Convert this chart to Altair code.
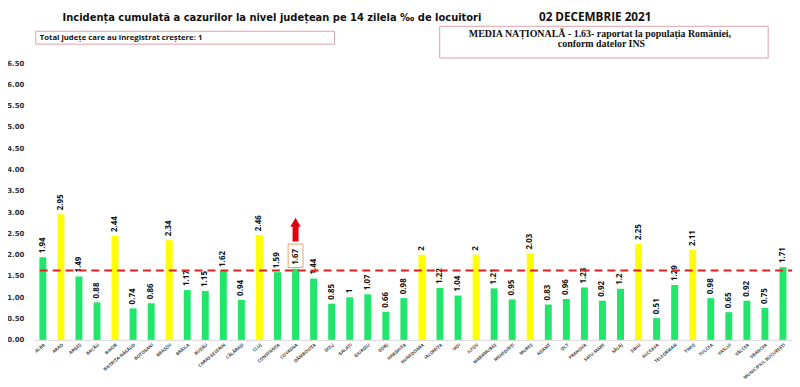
import altair as alt
import pandas as pd

counties = [
    "ALBA", "ARAD", "ARGEȘ", "BACĂU", "BIHOR", "BISTRIȚA-NĂSĂUD", "BOTOȘANI",
    "BRAȘOV", "BRĂILA", "BUZĂU", "CARAȘ-SEVERIN", "CĂLĂRAȘI", "CLUJ",
    "CONSTANȚA", "COVASNA", "DÂMBOVIȚA", "DOLJ", "GALAȚI", "GIURGIU", "GORJ",
    "HARGHITA", "HUNEDOARA", "IALOMIȚA", "IAȘI", "ILFOV", "MARAMUREȘ",
    "MEHEDINȚI", "MUREȘ", "NEAMȚ", "OLT", "PRAHOVA", "SATU MARE", "SĂLAJ",
    "SIBIU", "SUCEAVA", "TELEORMAN", "TIMIȘ", "TULCEA", "VASLUI", "VÂLCEA",
    "VRANCEA", "MUNICIPIUL BUCUREȘTI",
]
values = [
    1.94, 2.95, 1.49, 0.88, 2.44, 0.74, 0.86,
    2.34, 1.17, 1.15, 1.62, 0.94, 2.46,
    1.59, 1.67, 1.44, 0.85, 1, 1.07, 0.66,
    0.98, 2, 1.22, 1.04, 2, 1.21,
    0.95, 2.03, 0.83, 0.96, 1.23, 0.92, 1.2,
    2.25, 0.51, 1.29, 2.11, 0.98, 0.65, 0.92,
    0.75, 1.71,
]
y_ticks = [0.0, 0.5, 1.0, 1.5, 2.0, 2.5, 3.0, 3.5, 4.0, 4.5, 5.0, 5.5, 6.0, 6.5]
national_avg = 1.63
highlight_county = "COVASNA"
title_text = "Incidența cumulată a cazurilor la nivel județean pe 14 zilela ‰ de locuitori"
date_text = "02 DECEMBRIE 2021"
box1_text = "Total județe care au înregistrat creștere: 1"
box2_lines = ["MEDIA NAȚIONALĂ  - 1.63-  raportat la populația României,", "conform datelor INS"]

df = pd.DataFrame({"judet": counties, "val": values})

hv = values[counties.index(highlight_county)]
hl = pd.DataFrame({
    "judet": [highlight_county],
    "lo": [hv + 0.03], "hi": [hv + 0.58],
    "a0": [2.31], "a1": [2.68], "ah": [2.76],
})

xenc = alt.X(
    "judet:N", sort=counties,
    scale=alt.Scale(paddingInner=0, paddingOuter=0),
    axis=alt.Axis(
        title=None, labelAngle=-40, labelFontSize=4.5, labelFont="Open Sans",
        labelFontWeight="bold", labelColor="#444444", ticks=False,
        domainColor="#d9d9d9", labelPadding=2, labelOverlap=False, labelLimit=200,
    ),
)
yscale = alt.Scale(domain=[0, 6.501], nice=False)
yenc = alt.Y(
    "val:Q", scale=yscale,
    axis=alt.Axis(
        title=None, values=y_ticks, tickCount=20, format=".2f", grid=False,
        domain=False, ticks=False, labelPadding=10, labelFont="DejaVu Sans",
        labelFontSize=7, labelFontWeight="bold", labelColor="#333333",
        labelOverlap=False,
    ),
)

base = alt.Chart(df)

bars = base.mark_bar(size=7).encode(
    x=xenc, y=yenc,
    color=alt.condition("datum.val >= 2", alt.value("#FFFF00"), alt.value("#21E66B")),
)

labels = base.mark_text(
    angle=270, align="left", baseline="middle", dx=4,
    font="Open Sans", fontSize=8, fontWeight="bold", color="#111111",
).encode(x=xenc, y=alt.Y("val:Q", scale=yscale), text=alt.Text("val:Q", format="~g"))

avg_rule = alt.Chart(pd.DataFrame({"avg": [national_avg]})).mark_rule(
    color="#E02020", strokeWidth=2, strokeDash=[8, 5]
).encode(y=alt.Y("avg:Q", scale=yscale), x=alt.value(6), x2=alt.value(766))

hl_box = alt.Chart(hl).mark_bar(
    size=15, filled=False, stroke="#E8A070", strokeWidth=1
).encode(x=xenc, y=alt.Y("lo:Q", scale=yscale), y2="hi:Q")

arrow_shaft = alt.Chart(hl).mark_rule(color="#E00010", strokeWidth=6).encode(
    x=xenc, y=alt.Y("a0:Q", scale=yscale), y2="a1:Q"
)
arrow_head = alt.Chart(hl).mark_point(
    shape="triangle-up", filled=True, size=110, color="#E00010", opacity=1
).encode(x=xenc, y=alt.Y("ah:Q", scale=yscale))

box_stroke = "#E0A0A8"
box1 = alt.Chart(pd.DataFrame({"k": [1]})).mark_rect(
    fill="white", stroke=box_stroke, strokeWidth=1
).encode(x=alt.value(2), x2=alt.value(303), y=alt.value(-32), y2=alt.value(-19))
box1_t = alt.Chart(pd.DataFrame({"t": [box1_text]})).mark_text(
    align="left", baseline="middle", font="Open Sans", fontSize=7.8,
    fontWeight="bold", color="#111111",
).encode(x=alt.value(6), y=alt.value(-25.5), text="t:N")

box2 = alt.Chart(pd.DataFrame({"k": [1]})).mark_rect(
    fill="white", stroke=box_stroke, strokeWidth=1
).encode(x=alt.value(409), x2=alt.value(740), y=alt.value(-37), y2=alt.value(-5))
box2_t1 = alt.Chart(pd.DataFrame({"t": [box2_lines[0]]})).mark_text(
    align="center", baseline="middle", font="Liberation Serif", fontSize=10,
    fontWeight="bold", color="#111111",
).encode(x=alt.value(570.5), y=alt.value(-29), text="t:N")
box2_t2 = alt.Chart(pd.DataFrame({"t": [box2_lines[1]]})).mark_text(
    align="center", baseline="middle", font="Liberation Serif", fontSize=10,
    fontWeight="bold", color="#111111",
).encode(x=alt.value(572), y=alt.value(-19), text="t:N")

title_t = alt.Chart(pd.DataFrame({"t": [title_text]})).mark_text(
    align="left", baseline="alphabetic", font="DejaVu Sans", fontSize=10,
    fontWeight="bold", color="#111111",
).encode(x=alt.value(29), y=alt.value(-42), text="t:N")
date_t = alt.Chart(pd.DataFrame({"t": [date_text]})).mark_text(
    align="left", baseline="alphabetic", font="Open Sans", fontSize=11.8,
    fontWeight="bold", color="#111111",
).encode(x=alt.value(509), y=alt.value(-42), text="t:N")

chart = alt.layer(
    bars, labels, avg_rule, hl_box, arrow_shaft, arrow_head,
    box1, box1_t, box2, box2_t1, box2_t2, title_t, date_t,
).properties(
    width=764, height=279,
    autosize=alt.AutoSizeParams(type="none"),
    padding={"left": 26, "top": 54, "right": 0, "bottom": 38},
    background="white",
).configure_view(stroke=None)

chart.save("out.html", embed_options={"renderer": "svg", "actions": False})
